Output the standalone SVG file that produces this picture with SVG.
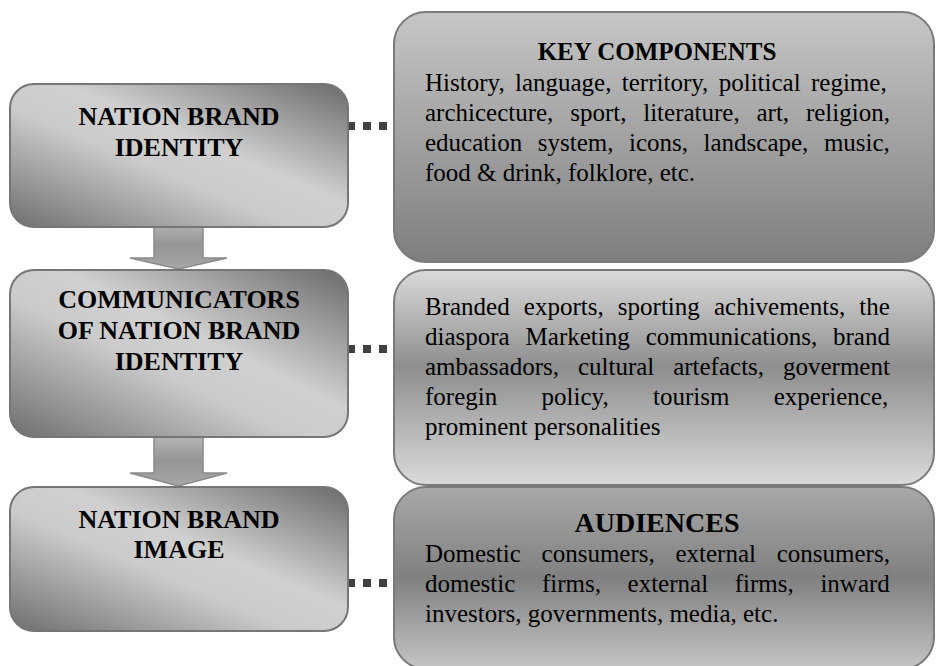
<svg xmlns="http://www.w3.org/2000/svg" width="936" height="666" viewBox="0 0 936 666">
<defs>
<linearGradient id="gLeft" x1="1" y1="0" x2="0" y2="1">
<stop offset="0" stop-color="#6a6a6a"/>
<stop offset="0.42" stop-color="#d0d0d0"/>
<stop offset="0.58" stop-color="#cbcbcb"/>
<stop offset="1" stop-color="#6e6e6e"/>
</linearGradient>
<linearGradient id="gR1" x1="0" y1="0" x2="0" y2="1">
<stop offset="0" stop-color="#c6c6c6"/>
<stop offset="1" stop-color="#7e7e7e"/>
</linearGradient>
<linearGradient id="gR2" x1="0" y1="0" x2="0" y2="1">
<stop offset="0" stop-color="#dadada"/>
<stop offset="0.45" stop-color="#8e8e8e"/>
<stop offset="1" stop-color="#dadada"/>
</linearGradient>
<linearGradient id="gR3" x1="0" y1="0" x2="0" y2="1">
<stop offset="0" stop-color="#a8a8a8"/>
<stop offset="0.5" stop-color="#808080"/>
<stop offset="1" stop-color="#c4c4c4"/>
</linearGradient>
<linearGradient id="gArrow" x1="0" y1="0" x2="0" y2="1">
<stop offset="0" stop-color="#b4b4b4"/>
<stop offset="0.5" stop-color="#949494"/>
<stop offset="1" stop-color="#a8a8a8"/>
</linearGradient>
</defs>
<style>
.lbox{fill:url(#gLeft);stroke:#767676;stroke-width:2}
.rbox{stroke:#7a7a7a;stroke-width:2}
.arrow{fill:url(#gArrow);stroke:#8a8a8a;stroke-width:1.5}
.dots{stroke:#404040;stroke-width:8;stroke-dasharray:8 8;fill:none}
.lbl{font-family:"Liberation Serif","Times New Roman",serif;font-weight:bold;font-size:26px;fill:#000;text-anchor:middle}
.hd{font-family:"Liberation Serif","Times New Roman",serif;font-weight:bold;font-size:25px;fill:#000;text-anchor:middle}
.body{font-family:"Liberation Serif","Times New Roman",serif;font-size:25px;fill:#000}
</style>
<g id="connectors">
<line class="dots" x1="347" y1="126" x2="387" y2="126"/>
<line class="dots" x1="347" y1="349" x2="387" y2="349"/>
<line class="dots" x1="347" y1="583" x2="387" y2="583"/>
<path id="arrow1" class="arrow" d="M154,222 L203,222 L203,258 L227,258 L178.5,269 L130,258 L154,258 Z"/>
<path id="arrow2" class="arrow" d="M154,437 L203,437 L203,473 L227,473 L178.5,486 L130,473 L154,473 Z"/>
</g>
<g id="node-identity">
<rect class="lbox" x="10" y="84" width="338" height="143" rx="24"/>
<text class="lbl" x="179" y="125">NATION BRAND</text>
<text class="lbl" x="179" y="156">IDENTITY</text>
</g>
<g id="node-communicators">
<rect class="lbox" x="10" y="270" width="338" height="167" rx="24"/>
<text class="lbl" x="179" y="308">COMMUNICATORS</text>
<text class="lbl" x="179" y="339">OF NATION BRAND</text>
<text class="lbl" x="179" y="370">IDENTITY</text>
</g>
<g id="node-image">
<rect class="lbox" x="10" y="487" width="338" height="144" rx="24"/>
<text class="lbl" x="179" y="528">NATION BRAND</text>
<text class="lbl" x="179" y="558">IMAGE</text>
</g>
<g id="node-key-components">
<rect class="rbox" fill="url(#gR1)" x="394" y="12" width="540" height="250" rx="32"/>
<text class="hd" x="657" y="60">KEY COMPONENTS</text>
<text class="body" x="425" y="91" word-spacing="4.1">History, language, territory, political regime,</text>
<text class="body" x="425" y="121" word-spacing="10.55">archicecture, sport, literature, art, religion,</text>
<text class="body" x="425" y="151" word-spacing="9.3">education system, icons, landscape, music,</text>
<text class="body" x="425" y="181">food &amp; drink, folklore, etc.</text>
</g>
<g id="node-communicator-list">
<rect class="rbox" fill="url(#gR2)" x="394" y="270" width="540" height="215" rx="32"/>
<text class="body" x="425" y="315" word-spacing="7.9">Branded exports, sporting achivements, the</text>
<text class="body" x="425" y="345" word-spacing="9.65">diaspora Marketing communications, brand</text>
<text class="body" x="425" y="375" word-spacing="12.65">ambassadors, cultural artefacts, goverment</text>
<text class="body" x="425" y="405" word-spacing="38.1">foregin policy, tourism experience,</text>
<text class="body" x="425" y="435">prominent personalities</text>
</g>
<g id="node-audiences">
<rect class="rbox" fill="url(#gR3)" x="394" y="487" width="540" height="182" rx="32"/>
<text class="hd" x="657" y="532" style="font-size:28px">AUDIENCES</text>
<text class="body" x="425" y="562" word-spacing="14.5">Domestic consumers, external consumers,</text>
<text class="body" x="425" y="592" word-spacing="20.4">domestic firms, external firms, inward</text>
<text class="body" x="425" y="622">investors, governments, media, etc.</text>
</g>
</svg>
